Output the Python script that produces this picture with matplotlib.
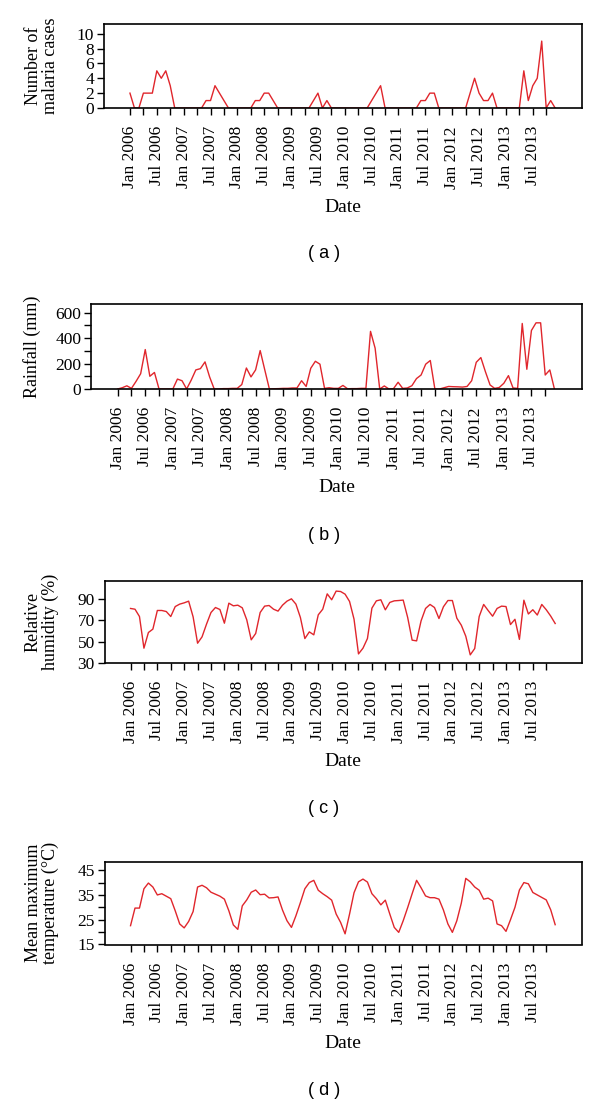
import numpy as np
import matplotlib
matplotlib.use("Agg")
import matplotlib.pyplot as plt

plt.rcParams["font.family"] = ["Liberation Serif", "DejaVu Serif"]

# monthly values, Jan 2006 .. Dec 2013
malaria = [2, 0, 0, 2, 2, 2, 5, 4, 5, 3, 0, 0,
           0, 0, 0, 0, 0, 1, 1, 3, 2, 1, 0, 0,
           0, 0, 0, 0, 1, 1, 2, 2, 1, 0, 0, 0,
           0, 0, 0, 0, 0, 1, 2, 0, 1, 0, 0, 0,
           0, 0, 0, 0, 0, 0, 1, 2, 3, 0, 0, 0,
           0, 0, 0, 0, 0, 1, 1, 2, 2, 0, 0, 0,
           0, 0, 0, 0, 2, 4, 2, 1, 1, 2, 0, 0,
           0, 0, 0, 0, 5, 1, 3, 4, 9, 0, 1, 0]

rainfall = [0, 10, 25, 5, 60, 120, 310, 100, 130, 0, 0, 0,
            0, 78, 65, 0, 70, 150, 160, 213, 95, 0, 0, 3,
            3, 5, 5, 35, 165, 95, 150, 302, 150, 0, 2, 3,
            5, 5, 8, 8, 65, 20, 163, 218, 195, 5, 10, 5,
            5, 28, 2, 3, 3, 5, 5, 453, 321, 0, 24, 0,
            3, 53, 5, 8, 26, 82, 110, 195, 224, 0, 0, 10,
            20, 18, 17, 15, 20, 65, 210, 247, 135, 32, 5, 12,
            45, 105, 8, 5, 515, 155, 460, 520, 520, 110, 150, 0]

humidity = [81.2, 80.5, 73.6, 43.7, 58.5, 61.7, 79.3, 79.3, 78.3, 73.6, 83, 85.3,
            86.5, 88.1, 73.3, 48.4, 54.4, 66.4, 77.4, 82.1, 80.2, 67.3, 86.2, 83.7,
            84.3, 81.8, 70.5, 51.6, 57.6, 77.4, 83.4, 84, 80.5, 78.7, 84.3, 88.1,
            90.3, 85.3, 72.7, 52.8, 59.1, 56.3, 75.2, 80.5, 95, 89.4, 97.6, 97.2,
            94.7, 87.8, 71.1, 38.3, 43.7, 52.8, 81.5, 88.4, 89.4, 79.9, 86.9, 88.4,
            88.7, 89.1, 72.7, 51.3, 50.6, 69.5, 81.2, 85, 82.1, 71.7, 82.8, 88.7,
            88.7, 72, 65.4, 55, 37.4, 43.4, 73.6, 85, 79.3, 73.9, 81.2, 83.4,
            83, 66, 71, 52, 89, 76, 80, 75, 85, 80, 74, 67]

temperature = [22.6, 29.7, 29.7, 37.5, 39.8, 38.2, 35, 35.5, 34.5, 33.5, 28.6, 23.3,
               21.7, 24.3, 28.3, 38.2, 38.9, 37.9, 36.1, 35.3, 34.5, 33.3, 28.6, 22.9,
               21.1, 30.6, 33, 36.1, 37, 35.1, 35.3, 33.8, 33.9, 34.2, 28.9, 24.6,
               21.9, 26.6, 31.9, 37.5, 40, 40.9, 36.9, 35.5, 34.3, 32.9, 27.3, 23.9,
               19.3, 27.3, 35.9, 40.3, 41.4, 40.2, 35.5, 33.5, 31, 32.9, 27.3, 21.9,
               19.9, 24.6, 29.9, 35.5, 40.9, 37.9, 34.6, 33.9, 33.9, 33.3, 28.9, 23.3,
               19.9, 24.6, 31.7, 41.7, 40.3, 38.2, 36.9, 33.3, 33.7, 32.6, 23.3, 22.6,
               20.3, 25, 30, 37, 40, 39.5, 36, 35, 34, 33, 29, 23]

years = list(range(2006, 2014))
tick_labels = []
for y in years:
    for mon in ["Jan", "", "Jul", ""]:
        tick_labels.append(f"{mon} {y}" if mon else "")
tick_labels = tick_labels[:32]

W, H = 600, 1105
fig = plt.figure(figsize=(W / 100, H / 100), dpi=100)

# panel boxes in pixels: left, right, top, bottom
panels = [
    dict(box=(104, 582, 24, 108), data=malaria, ylim=(0, 11.3),
         ticks=range(0, 11, 2), labeled=range(0, 11, 2),
         ylabel="Number of\nmalaria cases", ylx=42, tag="( a )"),
    dict(box=(91, 582, 304, 389), data=rainfall, ylim=(0, 668),
         ticks=range(0, 601, 100), labeled=range(0, 601, 200),
         ylabel="Rainfall (mm)", ylx=32, tag="( b )"),
    dict(box=(104.6, 582, 580.5, 662.7), data=humidity, ylim=(30, 107.6),
         ticks=range(30, 91, 20), labeled=range(30, 91, 20),
         ylabel="Relative\nhumidity (%)", ylx=42, tag="( c )"),
    dict(box=(104.6, 582, 862, 944.5), data=temperature, ylim=(15, 48.3),
         ticks=range(15, 46, 5), labeled=range(15, 46, 10),
         ylabel="Mean maximum\ntemperature (°C)", ylx=42, tag="( d )"),
]

x = np.arange(len(malaria))
for p in panels:
    l, r, t, b = p["box"]
    ax = fig.add_axes([l / W, 1 - b / H, (r - l) / W, (b - t) / H])
    ax.plot(x, p["data"], color="#e0262c", lw=1.0)
    ax.set_xlim(-5.8, 101)
    ax.set_ylim(*p["ylim"])
    ax.set_xticks(np.arange(0, 94, 3))
    ax.set_xticklabels(tick_labels, rotation=90, fontsize=12.5)
    ax.set_yticks(list(p["ticks"]))
    ax.set_yticklabels([str(v) if v in p["labeled"] else "" for v in p["ticks"]],
                       fontsize=12.5)
    ax.tick_params(axis="x", direction="out", length=5, width=1, pad=8)
    ax.tick_params(axis="y", direction="out", length=5, width=1, pad=2)
    for s in ax.spines.values():
        s.set_linewidth(1.2)
    fig.text((l + r) / 2 / W, 1 - (b + 99) / H, "Date", ha="center",
             va="center", fontsize=14)
    fig.text(324 / W, 1 - (b + 146) / H, p["tag"], ha="center", va="center",
             fontsize=13, family=["Liberation Sans", "DejaVu Sans"])
    fig.text(p["ylx"] / W, 1 - (t + b) / 2 / H, p["ylabel"], rotation=90,
             ha="center", va="center", multialignment="center", fontsize=13,
             linespacing=1.05)

fig.savefig("out.png", dpi=100)
